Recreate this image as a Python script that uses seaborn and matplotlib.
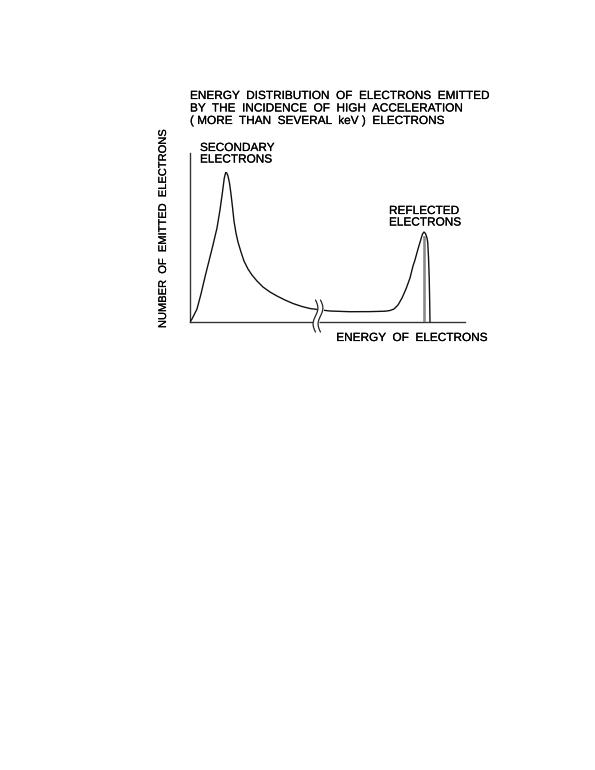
import numpy as np
import pandas as pd
import seaborn as sns
import matplotlib.pyplot as plt
import matplotlib.patheffects as pe

# energy axis (arbitrary units, break near 127) and number of emitted electrons
energy = [0, 2, 4, 7, 11, 15, 19, 23, 27, 30, 32.5, 34.3, 35.7, 36.8, 38, 39.5,
          41, 42.5, 44, 46, 48, 51, 54, 58, 62, 67, 73, 80, 87, 95, 103, 112,
          120, 129, 140, 160, 180, 195, 200, 204, 208, 212, 216, 220, 223, 225,
          228, 230.7, 232.5, 234, 235.5, 237, 237.7, 238.5, 239.2, 239.7, 240]
counts = [0, 3, 7, 13, 28, 45, 61, 77, 94, 112, 130, 144, 149.5, 149, 146, 139,
          128, 115, 101, 89, 80, 70, 61, 53, 47, 41, 35, 30, 26, 22, 18.5, 15.5,
          13.5, 12.3, 11, 10.3, 10.4, 10.8, 11.5, 13, 17, 24, 33, 44, 56, 62,
          73, 82, 88, 90, 88.5, 84, 80, 65, 45, 20, 0]

# elastic (reflected) peak
elastic_energy = [234]
elastic_height = [87]

title_lines = ["ENERGY  DISTRIBUTION  OF  ELECTRONS  EMITTED",
               "BY  THE  INCIDENCE  OF  HIGH  ACCELERATION",
               "( MORE  THAN  SEVERAL  keV )  ELECTRONS"]

df = pd.DataFrame({"energy": energy, "counts": counts})

sns.set_style("white")
plt.rcParams["font.family"] = ["Liberation Sans", "DejaVu Sans"]
plt.rcParams["text.color"] = "black"
heavy = [pe.withStroke(linewidth=0.15, foreground="black")]

fig = plt.figure(figsize=(5.95, 7.7), dpi=100)
ax = fig.add_axes([0.3193, 0.5818, 0.4622, 0.2195])

ax.bar(elastic_energy, elastic_height, width=3.5, color="#8a8a8a", zorder=2)
sns.lineplot(data=df, x="energy", y="counts", ax=ax, color="#111111",
             linewidth=1.0, sort=False, estimator=None, zorder=3)

ax.set_xlim(0, 275)
ax.set_ylim(0, 169)
ax.set_xticks([])
ax.set_yticks([])
ax.set_xlabel("")
ax.set_ylabel("")
sns.despine(ax=ax)
for side in ["left", "bottom"]:
    ax.spines[side].set_color("#333333")
    ax.spines[side].set_linewidth(1.0)

# axis break marks
yy = np.linspace(-10, 22, 60)
wave = 2.4 * np.sin(2 * np.pi * (22 - yy) / 32)
ax.fill_betweenx(yy, 125.5 + wave, 130.5 + wave, color="white", zorder=5,
                 clip_on=False)
for x0 in [125.5, 130.5]:
    ax.plot(x0 + wave, yy, color="#222222", linewidth=0.9, zorder=6, clip_on=False)

ax.text(10, 180, "SECONDARY\nELECTRONS", fontsize=8.5, va="top", ha="left",
        linespacing=0.95, path_effects=heavy)
ax.text(199, 117, "REFLECTED\nELECTRONS", fontsize=8.5, va="top", ha="left",
        linespacing=0.95, path_effects=heavy)

for i, line in enumerate(title_lines):
    fig.text(0.3193, 1 - (96 + 12.5 * i) / 770, line, fontsize=8.5, va="center",
             ha="left", path_effects=heavy)

fig.text(487 / 595, 1 - 338 / 770, "ENERGY  OF  ELECTRONS", fontsize=8.5,
         va="center", ha="right", path_effects=heavy)
fig.text(163 / 595, 1 - 229 / 770, "NUMBER  OF  EMITTED  ELECTRONS", fontsize=8,
         va="center", ha="center", rotation=90, path_effects=heavy)

fig.savefig("out.png", dpi=100, facecolor="white")
